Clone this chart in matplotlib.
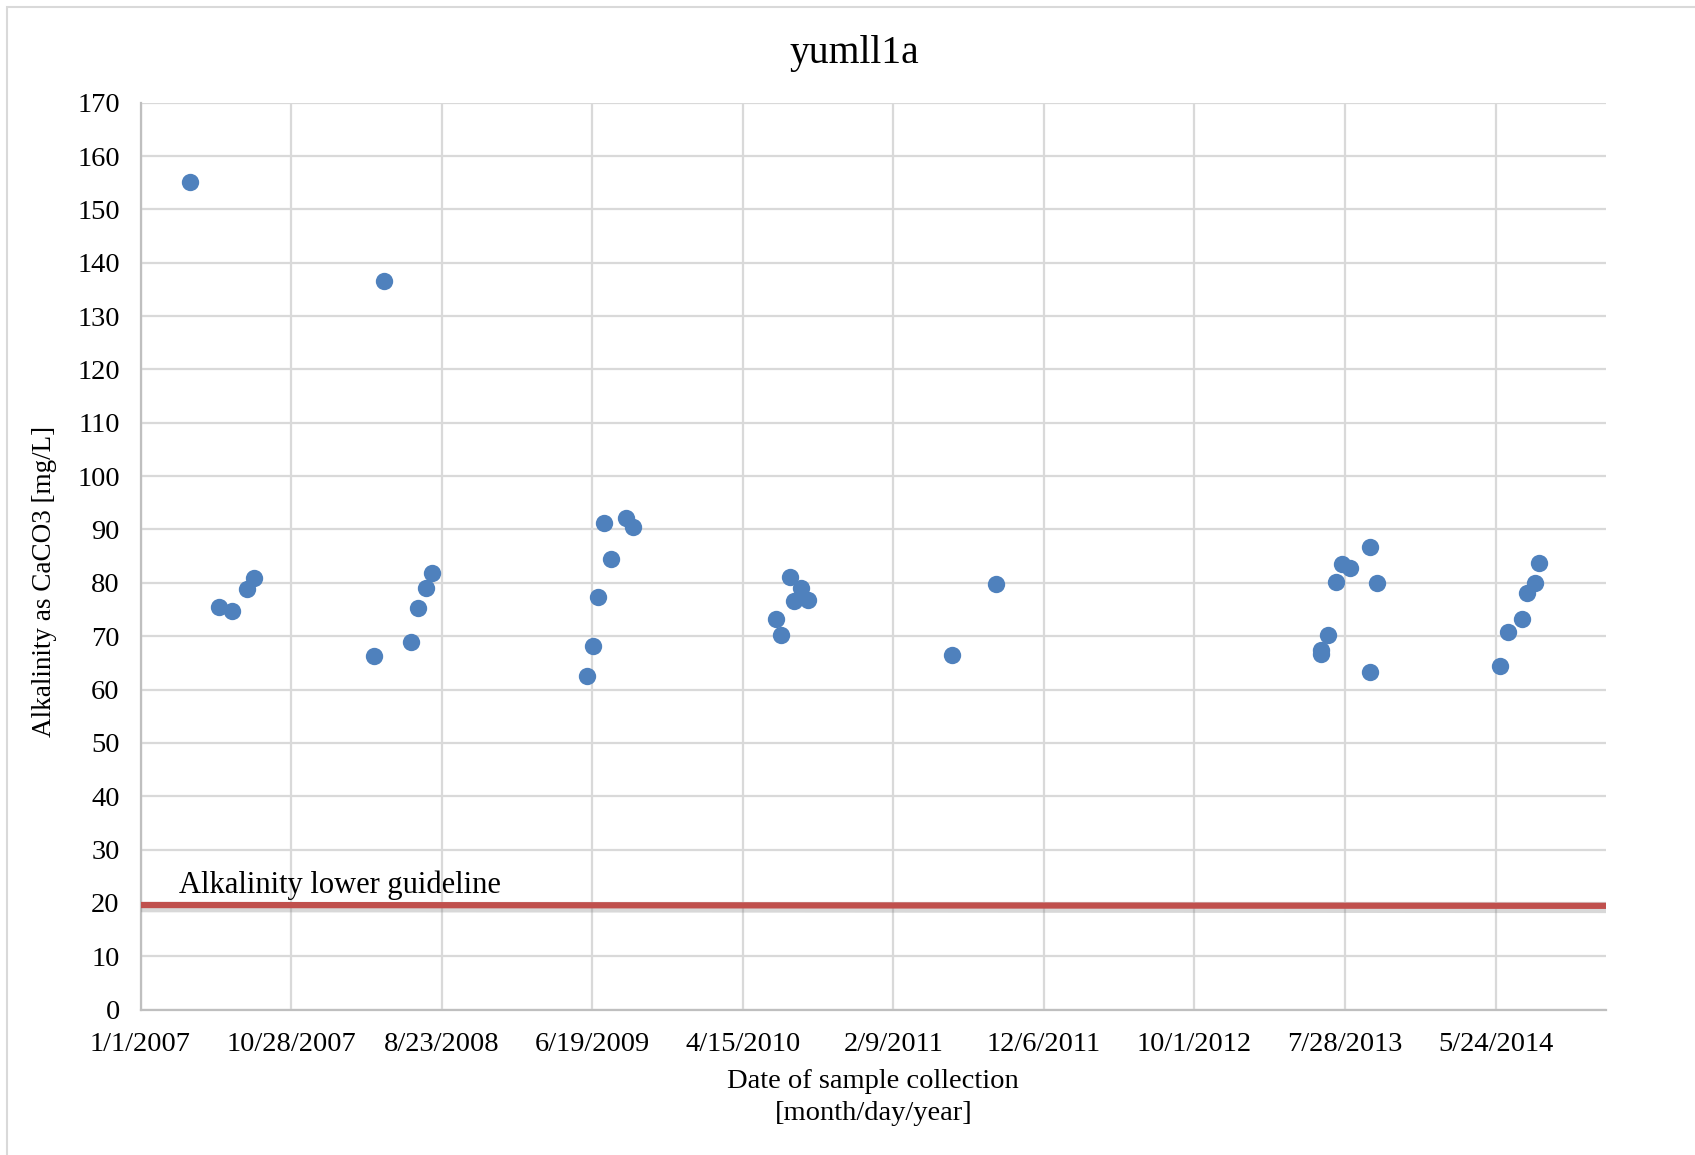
import numpy as np
import matplotlib
matplotlib.use("Agg")
import matplotlib.pyplot as plt
import matplotlib.dates as mdates
import matplotlib.patheffects as pe
from matplotlib.patches import Rectangle

plt.rcParams['font.family'] = ['Liberation Serif', 'DejaVu Serif']

# sample dates and alkalinity values
dates = ['2007-04-10', '2007-06-07', '2007-07-03', '2007-08-02', '2007-08-15',
         '2008-04-10', '2008-04-30', '2008-06-22', '2008-07-07', '2008-07-23', '2008-08-04',
         '2009-06-08', '2009-06-21', '2009-06-30', '2009-07-13', '2009-07-26', '2009-08-25', '2009-09-09',
         '2010-06-20', '2010-07-01', '2010-07-18', '2010-07-27', '2010-08-09', '2010-08-22',
         '2011-06-06', '2011-09-01',
         '2013-06-10', '2013-06-11', '2013-06-24', '2013-07-10', '2013-07-21', '2013-08-07',
         '2013-09-15', '2013-09-16', '2013-09-30',
         '2014-06-02', '2014-06-17', '2014-07-15', '2014-07-26', '2014-08-10', '2014-08-18']
alkalinity = [155.2, 75.4, 74.8, 78.8, 80.9,
              66.3, 136.6, 68.9, 75.2, 79.0, 81.9,
              62.6, 68.2, 77.3, 91.3, 84.4, 92.2, 90.4,
              73.3, 70.2, 81.1, 76.6, 79.0, 76.8,
              66.5, 79.8,
              66.7, 67.4, 70.3, 80.2, 83.5, 82.7,
              86.8, 63.3, 80.0,
              64.4, 70.8, 73.3, 78.0, 80.0, 83.8]

guide_dates = ['2007-01-01', '2014-12-31']
guide_values = [19.6, 19.45]

x_start = '2007-01-01'
x_end = '2014-12-30'

x = np.array(dates, dtype='datetime64[D]').astype('datetime64[ms]').astype(object)
gx = np.array(guide_dates, dtype='datetime64[D]').astype('datetime64[ms]').astype(object)

fig = plt.figure(figsize=(16.95, 11.55), dpi=100)
ax = fig.add_axes([0.0829, 0.1259, 0.8646, 0.7852])

# light frame around the chart
fig.patches.append(Rectangle((0.0041, -0.1), 1.2, 1.094, transform=fig.transFigure,
                             fill=False, edgecolor='#d9d9d9', linewidth=1.5))

ax.plot(gx, guide_values, color='#c0504d', linewidth=4.5, solid_capstyle='butt', zorder=3,
        path_effects=[pe.SimpleLineShadow(offset=(0, -3), shadow_color='#808080', alpha=0.3),
                      pe.Normal()])
ax.plot(x, alkalinity, 'o', color='#4f81bd', markersize=12.5, markeredgewidth=0, zorder=4)

ax.text(np.datetime64('2007-03-18').astype('datetime64[ms]').astype(object), 20.6,
        'Alkalinity lower guideline', fontsize=22, ha='left', va='bottom')

x0 = np.datetime64(x_start)
ticks = np.arange(x0, np.datetime64(x_end), np.timedelta64(300, 'D'))
ax.set_xticks(ticks.astype('datetime64[ms]').astype(object))
ax.xaxis.set_major_formatter(plt.FuncFormatter(
    lambda v, p: '{d.month}/{d.day}/{d.year}'.format(d=mdates.num2date(v))))
ax.set_xlim(x0.astype('datetime64[ms]').astype(object),
            np.datetime64(x_end).astype('datetime64[ms]').astype(object))
ax.set_ylim(0, 170)
ax.set_yticks(np.arange(0, 171, 10))

ax.grid(True, color='#d9d9d9', linewidth=1.6)
ax.set_axisbelow(True)
for s in ['top', 'right']:
    ax.spines[s].set_visible(False)
for s in ['left', 'bottom']:
    ax.spines[s].set_color('#bfbfbf')
    ax.spines[s].set_linewidth(1.6)
ax.tick_params(axis='both', length=0, labelsize=20.5)
ax.tick_params(axis='y', pad=15)
ax.tick_params(axis='x', pad=16)

ax.set_xlabel('Date of sample collection\n[month/day/year]', fontsize=20.5, labelpad=9,
              linespacing=1.35)
ax.set_ylabel('Alkalinity as CaCO3 [mg/L]', fontsize=19.5)
ax.yaxis.set_label_coords(-0.057, 0.472)
fig.text(0.504, 1 - 53 / 1155, 'yumll1a', fontsize=28.5, ha='center', va='center')

plt.savefig('out.png', dpi=100)
